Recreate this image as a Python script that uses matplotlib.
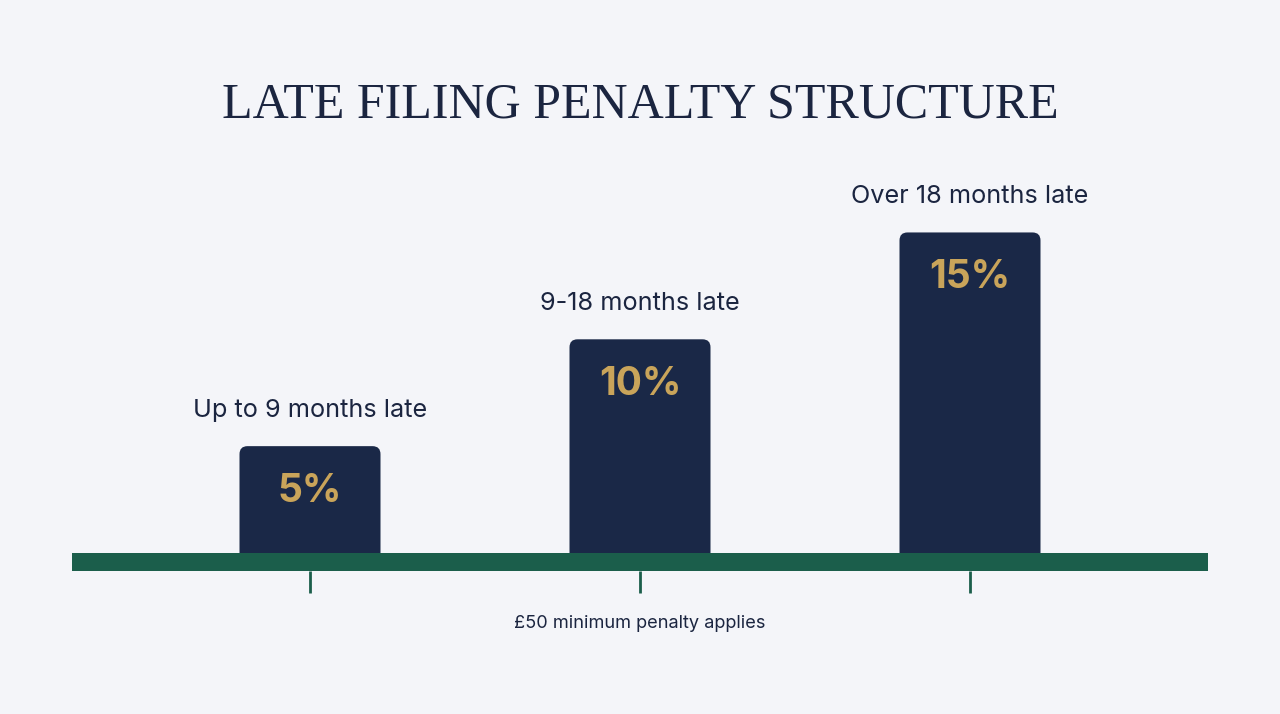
import matplotlib.pyplot as plt
from matplotlib.patches import FancyBboxPatch, Rectangle

# chart data
categories = ["Up to 9 months late", "9-18 months late", "Over 18 months late"]
rates = [5, 10, 15]
rate_labels = ["5%", "10%", "15%"]
title = "LATE FILING PENALTY STRUCTURE"
note = "£50 minimum penalty applies"

BG = "#f4f5f9"
NAVY = "#1a2847"
GOLD = "#c9a45a"
GREEN = "#1b5e4b"
TEXT = "#1b2540"

plt.rcParams["font.family"] = ["Inter", "DejaVu Sans"]

W, H = 1280, 714
fig = plt.figure(figsize=(W / 100, H / 100), dpi=100, facecolor=BG)
ax = fig.add_axes([0, 0, 1, 1])
ax.set_facecolor(BG)
ax.axis("off")

# layout in pixels: first bar centre at x=310, 330 px apart, baseline 553 px from top
x0, step = 310, 330
base_px = H - 553
ppp = 21.37  # pixels per percentage point
ax.set_xlim(-x0 / step, (W - x0) / step)
ax.set_ylim(-base_px / ppp, (H - base_px) / ppp)

bar_w = 141 / step
rx, ry = 8 / step, 8 / ppp
band_h = 18 / ppp

for i, (cat, v, lab) in enumerate(zip(categories, rates, rate_labels)):
    bar = FancyBboxPatch((i - bar_w / 2, -band_h / 2), bar_w, v + band_h / 2,
                         boxstyle=f"round,pad=0,rounding_size={rx}",
                         mutation_aspect=ry / rx, facecolor=NAVY,
                         edgecolor="none", zorder=2)
    ax.add_patch(bar)
    ax.text(i, v - 56 / ppp, lab, ha="center", va="baseline", color=GOLD,
            fontsize=28, fontweight="bold", zorder=4)
    ax.text(i, v + 29 / ppp, cat, ha="center", va="baseline", color=TEXT,
            fontsize=18.2, zorder=4)

# baseline band and ticks
left, right = (72 - x0) / step, (1208 - x0) / step
ax.add_patch(Rectangle((left, -band_h), right - left, band_h,
                       facecolor=GREEN, edgecolor="none", zorder=3))
ax.vlines(range(len(rates)), -band_h - 22 / ppp, -band_h, color=GREEN,
          lw=2, zorder=3)

ax.text(1, -71 / ppp, note, ha="center", va="center", color=TEXT, fontsize=13.1)

fig.text(0.5, 1 - 105 / H, title, ha="center", va="center", color=TEXT,
         fontsize=36, family=["Liberation Serif", "DejaVu Serif"])

fig.savefig("out.png", dpi=100, facecolor=BG)
